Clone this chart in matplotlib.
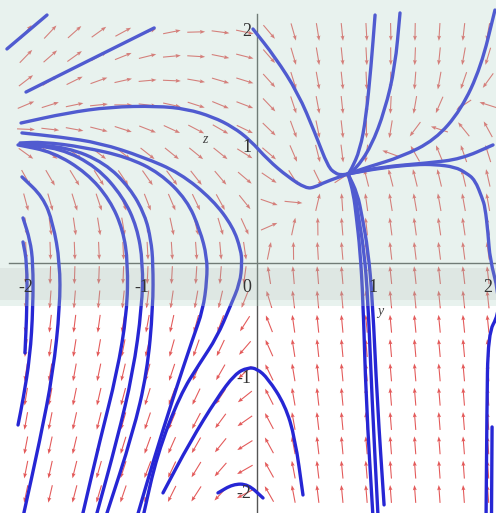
import numpy as np
import matplotlib
matplotlib.use('Agg')
import matplotlib.pyplot as plt
from matplotlib.patches import Rectangle, PathPatch
from matplotlib.path import Path

# ---------------- data ----------------
# direction-field grid (20 x 20 over [-2,2]^2)
grid_y = np.linspace(-2, 2, 20)
grid_z = np.linspace(-2, 2, 20)

def field(y, z):
    h = np.where(y > 0, 1.25 * y**2, 0.0)
    U = z - h
    c_right = 0.35 + 0.53 * y
    c_left = 0.9 + 0.55 / np.sqrt(y**2 + 0.01)
    V = np.where(y >= 0, 14 * y * (c_right - z), 1.5 * y * (c_left - z))
    return U, V

# solution curves (y, z)
S1 = [(-2.165, 1.853), (-1.818, 2.147)]
S2 = [(-2.0, 1.48), (-1.446, 1.758), (-0.89, 2.035)]
S3 = [(-2.043, 1.212), (-1.645, 1.299), (-1.273, 1.351), (-0.866, 1.359), (-0.606, 1.333),
      (-0.381, 1.264), (-0.208, 1.177), (-0.061, 1.065), (0.095, 0.892), (0.268, 0.745),
      (0.424, 0.645), (0.50, 0.655), (0.589, 0.701), (0.788, 0.771)]
S4 = [(0.788, 0.771), (1.074, 0.831), (1.48, 0.866), (1.766, 0.900), (2.043, 1.022)]
S5 = [(0.788, 0.771), (1.074, 0.823), (1.368, 0.853), (1.54, 0.853), (1.714, 0.831),
      (1.810, 0.780), (1.887, 0.719), (1.950, 0.560), (1.974, 0.485), (2.0, 0.26),
      (2.017, 0.03), (2.09, -0.25), (2.09, -0.45), (2.0, -0.61), (1.99, -1.3), (1.983, -2.2)]
R2 = [(2.035, -1.42), (2.03, -2.2)]
T1 = [(-0.035, 2.026), (0.156, 1.784), (0.355, 1.472), (0.502, 1.126), (0.615, 0.831),
      (0.68, 0.775), (0.727, 0.762), (0.788, 0.771)]
T2 = [(1.022, 2.147), (0.987, 1.697), (0.944, 1.264), (0.892, 0.978), (0.814, 0.805), (0.788, 0.771)]
T3 = [(1.238, 2.165), (1.195, 1.697), (1.108, 1.325), (0.987, 1.004), (0.848, 0.805), (0.788, 0.771)]
T4 = [(2.06, 2.19), (1.939, 1.697), (1.766, 1.325), (1.541, 1.065), (1.247, 0.918),
      (0.961, 0.831), (0.788, 0.771)]
D1 = [(0.788, 0.771), (0.835, 0.6), (0.86, 0.4), (0.892, 0.113), (0.918, -0.32), (0.944, -1.186), (1.004, -2.2)]
D2 = [(0.788, 0.771), (0.85, 0.6), (0.878, 0.4), (0.926, 0.113), (0.961, -0.32), (0.996, -1.186), (1.048, -2.2)]
D3 = [(0.788, 0.771), (0.87, 0.6), (0.91, 0.4), (0.961, 0.113), (1.0, -0.32), (1.04, -1.186), (1.1, -2.095)]
A1 = [(-2.035, 1.126), (-1.706, 1.091), (-1.359, 1.039), (-0.987, 0.918), (-0.667, 0.779),
      (-0.381, 0.545), (-0.208, 0.312), (-0.14, 0.113), (-0.130, 0.0), (-0.147, -0.173),
      (-0.234, -0.381), (-0.346, -0.641), (-0.494, -0.866), (-0.667, -1.143), (-0.866, -1.662),
      (-0.987, -2.2)]
A2 = [(-2.052, 1.039), (-1.853, 1.048), (-1.506, 1.004), (-1.126, 0.918), (-0.840, 0.779),
      (-0.606, 0.545), (-0.494, 0.286), (-0.433, 0.052), (-0.433, -0.147), (-0.468, -0.407),
      (-0.554, -0.649), (-0.727, -1.169), (-0.900, -1.723), (-1.039, -2.2)]
B = [(-2.052, 1.030), (-1.645, 1.004), (-1.316, 0.866), (-1.100, 0.649), (-0.970, 0.416),
     (-0.918, 0.199), (-0.900, 0.0), (-0.900, -0.381), (-0.952, -0.952), (-1.074, -1.472), (-1.31, -2.2)]
C = [(-2.052, 1.022), (-1.706, 0.996), (-1.385, 0.831), (-1.160, 0.571), (-1.039, 0.312),
     (-0.987, 0.0), (-0.996, -0.381), (-1.074, -0.952), (-1.212, -1.532), (-1.395, -2.2)]
D = [(-2.069, 1.022), (-1.766, 0.961), (-1.472, 0.779), (-1.273, 0.545), (-1.160, 0.286),
     (-1.117, 0.0), (-1.126, -0.433), (-1.212, -0.952), (-1.359, -1.532), (-1.515, -2.2)]
E = [(-2.035, 0.745), (-1.853, 0.571), (-1.766, 0.346), (-1.706, 0.0), (-1.706, -0.381),
     (-1.766, -0.952), (-1.879, -1.532), (-2.026, -2.2)]
F = [(-2.026, 0.39), (-1.965, 0.199), (-1.939, 0.0), (-1.939, -0.381), (-1.965, -0.814),
     (-2.026, -1.186), (-2.069, -1.403)]
G = [(-2.026, 0.182), (-1.991, 0.0), (-1.991, -0.381), (-2.009, -0.779)]
CAP1 = [(-0.814, -1.991), (-0.58, -1.55), (-0.346, -1.169), (-0.19, -0.96), (-0.08, -0.905),
        (0.0, -0.915), (0.095, -1.0), (0.242, -1.229), (0.329, -1.515), (0.398, -2.009)]
CAP2 = [(-0.338, -1.991), (-0.208, -1.915), (-0.078, -1.915), (0.052, -2.035)]

curves = [S1, S2, S3, S4, S5, R2, T1, T2, T3, T4, D1, D2, D3, A1, A2, B, C, D, E, F, G, CAP1, CAP2]

xticks = [-2, -1, 1, 2]
zticks = [-2, -1, 1, 2]

# ---------------- figure ----------------
fig = plt.figure(figsize=(4.96, 5.13), dpi=100)
ax = fig.add_axes([0, 0, 1, 1])
ax.set_xlim(-2.225, 2.069)
ax.set_ylim(-2.165, 2.277)
ax.axis('off')

# axes through origin
ax.plot([-2.15, 2.07], [0, 0], color='#555555', lw=1.0, zorder=1)
ax.plot([0, 0], [-2.17, 2.16], color='#555555', lw=1.0, zorder=1)

# direction field
Y, Z = np.meshgrid(grid_y, grid_z)
U, V = field(Y, Z)
n = np.hypot(U, V) + 1e-12
L = 0.155
du, dv = U / n * L, V / n * L
ax.quiver(Y - du / 2, Z - dv / 2, du, dv, angles='xy', scale_units='xy', scale=1,
          color='#e35a5a', width=0.0022, headwidth=3.6, headlength=4.8,
          headaxislength=4.2, zorder=2)

# solution curves, drawn as smooth quadratic Bezier paths through the read points
def smooth_path(pts):
    p = np.asarray(pts, dtype=float)
    if len(p) < 3:
        return Path(p, [Path.MOVETO] + [Path.LINETO] * (len(p) - 1))
    verts = [p[0], (p[0] + p[1]) / 2]
    codes = [Path.MOVETO, Path.LINETO]
    for i in range(1, len(p) - 1):
        verts += [p[i], (p[i] + p[i + 1]) / 2]
        codes += [Path.CURVE3, Path.CURVE3]
    verts.append(p[-1])
    codes.append(Path.LINETO)
    return Path(verts, codes)

for crv in curves:
    ax.add_patch(PathPatch(smooth_path(crv), facecolor='none', edgecolor='#2626d4',
                           lw=2.4, capstyle='round', joinstyle='round', zorder=3))

# watermark-like tint over upper part
ax.add_patch(Rectangle((-2.3, -0.372), 4.5, 2.8, facecolor='#b4d7c8', alpha=0.3,
                       edgecolor='none', zorder=5))
ax.add_patch(Rectangle((-2.3, -0.32), 4.5, 0.28, facecolor='#888888', alpha=0.10,
                       edgecolor='none', zorder=5))

# tick labels
tfont = dict(family='Liberation Serif', fontsize=13, color='#333333', zorder=6)
for t in xticks:
    ax.text(t, -0.21, f'-{abs(t)}' if t < 0 else f'{t}', ha='center', va='center', **tfont)
ax.text(-0.087, -0.21, '0', ha='center', va='center', **tfont)
for t in zticks:
    ax.text(-0.05, t, f'-{abs(t)}' if t < 0 else f'{t}', ha='right', va='center', **tfont)

ax.text(-0.45, 1.065, 'z', family='Liberation Serif', style='italic', fontsize=10,
        color='#444444', ha='center', va='center', zorder=6)
ax.text(1.07, -0.42, 'y', family='Liberation Serif', style='italic', fontsize=10,
        color='#444444', ha='center', va='center', zorder=6)

fig.savefig('out.png', dpi=100)
